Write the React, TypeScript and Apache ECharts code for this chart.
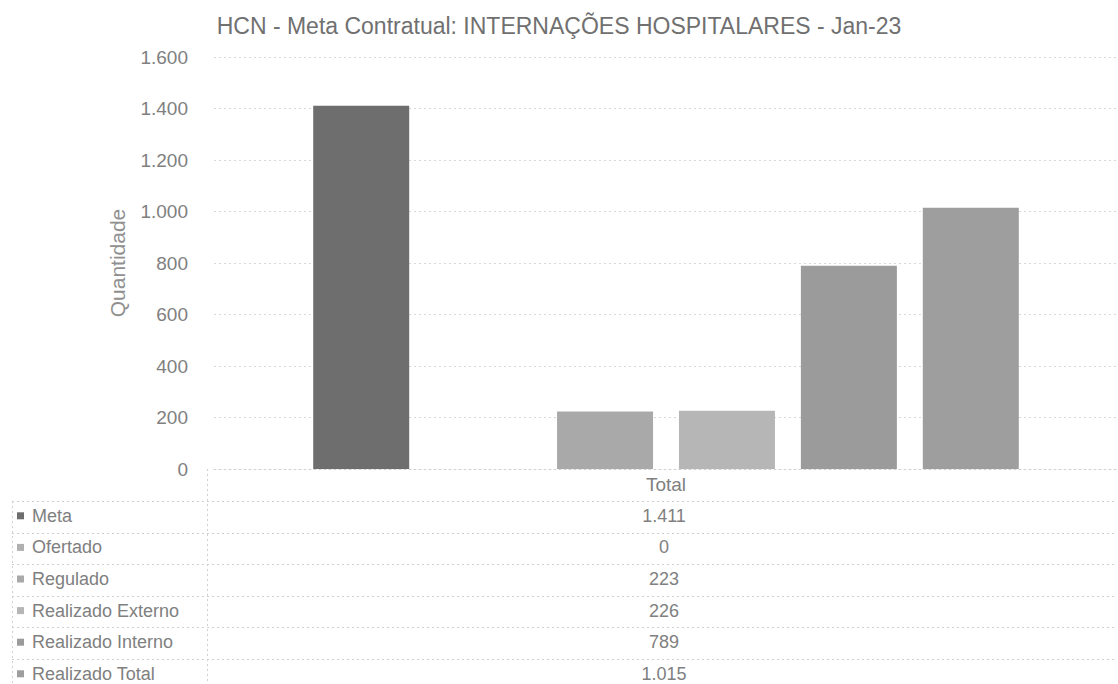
import React, { useEffect, useRef } from "react";
import * as echarts from "echarts";

const TITLE = "HCN - Meta Contratual: INTERNAÇÕES HOSPITALARES - Jan-23";
const CATEGORIES = ["Total"];
const SERIES_NAMES = ["Meta", "Ofertado", "Regulado", "Realizado Externo", "Realizado Interno", "Realizado Total"];
const SERIES_VALUES = [1411, 0, 223, 226, 789, 1015];
const SERIES_COLORS = ["#6e6e6e", "#b0b0b0", "#a9a9a9", "#b6b6b6", "#9b9b9b", "#9e9e9e"];
const Y_AXIS_NAME = "Quantidade";

const fmt = (v: number) => String(Math.round(v)).replace(/\B(?=(\d{3})+(?!\d))/g, ".");

export default function App() {
  const ref = useRef<HTMLDivElement>(null);
  useEffect(() => {
    document.body.style.margin = "0";
    const chart = echarts.init(ref.current!, null, { renderer: "svg" });
    const W = 1118;
    const gridLeft = 214;
    const gridRight = 0;
    const plotCenter = gridLeft + (W - gridLeft - gridRight) / 2;
    const rowTop = 501;
    const rowH = 31.6;
    const textColor = "#808080";
    const lineColor = "#d0d0d0";
    const FONT = "'Liberation Sans', Arial, sans-serif";

    const graphic: any[] = [];
    for (let i = 0; i <= SERIES_NAMES.length; i++) {
      const y = Math.round(rowTop + i * rowH) + 0.5;
      graphic.push({
        type: "line",
        shape: { x1: 12, y1: y, x2: W - 2, y2: y },
        style: { stroke: lineColor, lineWidth: 1, lineDash: [2, 3] },
        silent: true,
      });
    }
    graphic.push({
      type: "line",
      shape: { x1: 207.5, y1: 469, x2: 207.5, y2: 684 },
      style: { stroke: lineColor, lineWidth: 1, lineDash: [2, 3] },
    });
    graphic.push({
      type: "line",
      shape: { x1: 12.5, y1: rowTop, x2: 12.5, y2: 684 },
      style: { stroke: lineColor, lineWidth: 1, lineDash: [2, 3] },
    });
    SERIES_NAMES.forEach((name, i) => {
      const cy = rowTop + i * rowH + rowH / 2 - 1;
      graphic.push({
        type: "rect",
        shape: { x: 17, y: cy - 3.5, width: 7, height: 7 },
        style: { fill: SERIES_COLORS[i] },
      });
      graphic.push({
        type: "text",
        x: 32,
        y: cy,
        style: {
          text: name,
          fill: textColor,
          font: `18px ${FONT}`,
          verticalAlign: "middle",
          textVerticalAlign: "middle",
        },
      });
      graphic.push({
        type: "text",
        x: plotCenter - 2,
        y: cy,
        style: {
          text: fmt(SERIES_VALUES[i]),
          fill: textColor,
          font: `18px ${FONT}`,
          align: "center",
          textAlign: "center",
          verticalAlign: "middle",
          textVerticalAlign: "middle",
        },
      });
    });

    chart.setOption({
      animation: false,
      backgroundColor: "#ffffff",
      title: {
        text: TITLE,
        left: "center",
        top: 9,
        textStyle: {
          fontFamily: FONT,
          fontSize: 23,
          fontWeight: "normal",
          color: "#707070",
        },
      },
      grid: { left: gridLeft, right: gridRight, top: 57, bottom: 684 - 469 },
      xAxis: {
        type: "category",
        data: CATEGORIES,
        axisLine: { show: true, lineStyle: { color: lineColor, type: [2, 3] } },
        axisTick: { show: false },
        axisLabel: { color: textColor, fontSize: 19, fontFamily: FONT, margin: 6 },
      },
      yAxis: {
        type: "value",
        min: 0,
        max: 1600,
        interval: 200,
        name: Y_AXIS_NAME,
        nameLocation: "middle",
        nameGap: 86,
        nameRotate: 90,
        nameTextStyle: { color: "#909090", fontSize: 21, fontFamily: FONT },
        axisLine: { show: false },
        axisTick: { show: false },
        axisLabel: {
          color: textColor,
          fontSize: 19,
          fontFamily: FONT,
          margin: 26,
          formatter: (v: number) => fmt(v),
        },
        splitLine: { lineStyle: { color: "#d8d8d8", type: [2, 3] } },
      },
      series: SERIES_NAMES.map((name, i) => ({
        name,
        type: "bar",
        data: [SERIES_VALUES[i]],
        barWidth: 96,
        barGap: "27%",
        itemStyle: { color: SERIES_COLORS[i] },
      })),
      graphic,
    });
    return () => chart.dispose();
  }, []);
  return <div ref={ref} style={{ width: 1118, height: 684 }} />;
}
